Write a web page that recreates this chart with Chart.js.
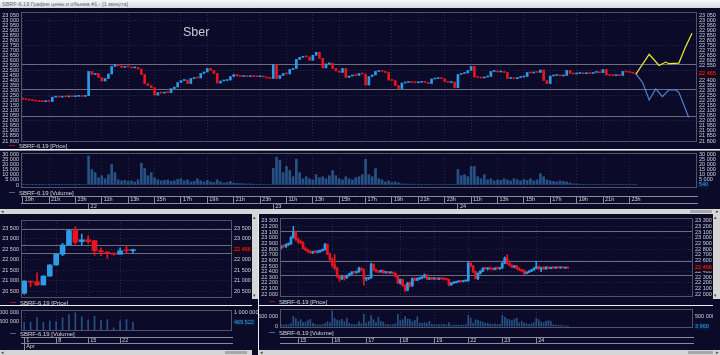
<!DOCTYPE html>
<html><head><meta charset="utf-8">
<script src="https://cdn.jsdelivr.net/npm/chart.js@4.4.1/dist/chart.umd.min.js"></script>
<style>
html,body{margin:0;padding:0;}
body{width:720px;height:355px;overflow:hidden;position:relative;background:#0b0b29;font-family:"Liberation Sans",Arial,sans-serif;}
canvas{position:absolute;display:block;}
.a{position:absolute;}
#title{left:0;top:0;width:720px;height:8px;background:linear-gradient(#f7f7f7,#d8dae0);color:#6a6a78;font-size:5.5px;line-height:8px;text-indent:2px;white-space:nowrap;overflow:hidden;}
.lg{position:absolute;font-size:6px;line-height:7px;color:#d6d6de;white-space:nowrap;}
.lg i{display:inline-block;width:6px;height:1px;vertical-align:middle;margin-right:4px;position:relative;top:-1px;}
.sep{position:absolute;background:#eeeeee;}
.sb{position:absolute;background:#d6d6d6;color:#444;font-size:5px;line-height:5px;overflow:hidden;}
.th{position:absolute;background:#a8a8a8;}
#sber{left:183px;top:25px;font-size:12.5px;color:#c9c9cf;}
</style></head>
<body>
<div id="title" class="a">SBRF-6.19 График цены и объема #1 - [1 минута]</div>
<canvas id="cTop" width="720" height="136" style="left:0;top:8px"></canvas>
<canvas id="cTopVol" width="720" height="58" style="left:0;top:151px"></canvas>
<canvas id="cDay" width="252" height="92" style="left:0;top:214px"></canvas>
<canvas id="cDayVol" width="258" height="43" style="left:0;top:307px"></canvas>
<canvas id="cHour" width="454" height="92" style="left:259px;top:214px"></canvas>
<canvas id="cHourVol" width="454" height="43" style="left:259px;top:307px"></canvas>

<div id="sber" class="a">Sber</div>
<div class="lg" style="left:9px;top:143px"><i style="background:#8c1a2a"></i>SBRF-6.19 [Price]</div>
<div class="lg" style="left:9px;top:190px"><i style="background:#3565a5"></i>SBRF-6.19 [Volume]</div>
<div class="lg" style="left:10px;top:300px"><i style="background:#8c1a2a"></i>SBRF-6.19 [Price]</div>
<div class="lg" style="left:10px;top:331px"><i style="background:#3565a5"></i>SBRF-6.19 [Volume]</div>
<div class="lg" style="left:269px;top:299px"><i style="background:#8c1a2a"></i>SBRF-6.19 [Price]</div>
<div class="lg" style="left:269px;top:330px"><i style="background:#3565a5"></i>SBRF-6.19 [Volume]</div>

<div class="sep" style="left:0;top:149px;width:720px;height:1px"></div>
<div class="sep" style="left:0;top:150px;width:720px;height:1px;background:#8e8e96"></div>
<div class="sb" style="left:0;top:209px;width:720px;height:5px">&nbsp;◂<div class="th" style="left:690px;top:1px;width:22px;height:3px"></div><span class="a" style="right:1px;top:0">▸</span></div>
<div class="sep" style="left:0;top:305px;width:252px;height:1px"></div>
<div class="sep" style="left:259px;top:305px;width:454px;height:1px"></div>
<div class="sb" style="left:252px;top:214px;width:6px;height:85px"><span class="a" style="left:1px;top:1px">▴</span><span class="a" style="left:1px;bottom:1px">▾</span></div>
<div class="sep" style="left:258px;top:214px;width:1px;height:141px"></div>
<div class="sb" style="left:713px;top:214px;width:7px;height:85px"><span class="a" style="left:1px;top:1px">▴</span><span class="a" style="left:1px;bottom:1px">▾</span></div>
<div class="sb" style="left:0;top:350px;width:252px;height:5px">&nbsp;◂<div class="th" style="left:225px;top:1px;width:22px;height:3px"></div></div>
<div class="sb" style="left:259px;top:350px;width:461px;height:5px">&nbsp;◂<div class="th" style="left:429px;top:1px;width:25px;height:3px"></div><span class="a" style="right:1px;top:0">▸</span></div>

<script>
// ---------------- DATA ----------------
// Top panel: 15-minute slots (session day, first hour, number of slots)
const topSessions = [['21', 19, 20], ['22', 10, 56], ['23', 10, 56], ['24', 10, 55]];
const topForecastSlots = 18;
const topOpen = [
22220,22215,22210,22205,22200,22195,22192,22190,22195,22192,
22235,22238,22235,22240,22238,22242,22240,22243,22245,22242,
22250,22490,22460,22470,22430,22395,22420,22465,22540,22560,
22545,22530,22540,22535,22525,22530,22515,22460,22370,22350,
22330,22255,22280,22275,22285,22280,22320,22335,22380,22400,
22405,22370,22420,22430,22425,22470,22485,22520,22500,22470,
22375,22395,22400,22405,22440,22460,22445,22440,22440,22438,
22442,22440,22438,22440,22435,22425,22420,22560,22420,22450,
22470,22465,22510,22520,22610,22630,22640,22635,22600,22650,
22680,22620,22525,22565,22570,22520,22495,22480,22520,22430,
22445,22455,22450,22470,22465,22355,22440,22455,22490,22495,
22490,22480,22405,22400,22350,22320,22375,22380,22385,22380,
22378,22382,22385,22380,22370,22415,22420,22425,22418,22390,
22380,22385,22330,22460,22470,22475,22500,22540,22435,22430,
22425,22435,22440,22490,22495,22485,22490,22480,22420,22425,
22418,22430,22435,22440,22480,22475,22485,22480,22505,22400,
22370,22445,22450,22455,22445,22450,22500,22470,22465,22470,
22475,22468,22472,22470,22480,22485,22478,22510,22455,22450,
22448,22452,22450,22490,22485,22480,22472];
const topClose = [
22215,22210,22205,22200,22195,22192,22190,22195,22192,22235,
22238,22235,22240,22238,22242,22240,22243,22245,22242,22248,
22490,22460,22470,22430,22395,22420,22465,22540,22560,22545,
22530,22540,22535,22525,22530,22515,22460,22370,22350,22330,
22255,22280,22275,22285,22280,22320,22335,22380,22400,22405,
22370,22420,22430,22425,22470,22485,22520,22500,22470,22375,
22395,22400,22405,22440,22460,22445,22440,22440,22438,22442,
22440,22438,22440,22435,22425,22420,22560,22420,22450,22470,
22465,22510,22520,22610,22630,22640,22635,22600,22650,22680,
22620,22525,22565,22570,22520,22495,22480,22520,22430,22445,
22455,22450,22470,22465,22355,22440,22455,22490,22495,22490,
22480,22405,22400,22350,22320,22375,22380,22385,22380,22378,
22382,22385,22380,22370,22415,22420,22425,22418,22390,22380,
22385,22330,22460,22470,22475,22500,22540,22435,22430,22425,
22435,22440,22490,22495,22485,22490,22480,22420,22425,22418,
22430,22435,22440,22480,22475,22485,22480,22505,22400,22370,
22445,22450,22455,22445,22450,22500,22470,22465,22470,22475,
22468,22472,22470,22480,22485,22478,22510,22455,22450,22448,
22452,22450,22490,22485,22480,22472,22465];
const topVolume = [
300,200,300,200,250,200,300,400,200,600,
300,200,300,200,250,300,200,300,400,500,
28000,15000,12000,7000,9000,6000,10000,20000,12000,5000,
4000,4500,3500,4000,3000,5000,21000,16000,9000,12000,
7000,5000,4000,4500,5000,3500,4000,5500,6000,4000,
5000,3000,3500,6000,4000,3000,4500,3000,2500,5000,
3000,2000,2500,3500,2000,1500,1500,1200,1000,1200,
800,700,600,500,500,600,16000,27000,24000,12000,
18000,14000,8000,25000,12000,6000,8000,6000,5000,10000,
7000,8000,6000,9000,14000,9000,6000,5000,8000,6000,
5000,7000,8000,10000,25000,10000,8000,16000,6000,5000,
3000,4000,2500,3000,2000,1200,1000,900,800,700,
800,600,700,600,500,600,500,400,500,400,
500,600,15000,9000,10000,8000,18000,18000,8000,6000,
10000,5000,6000,4000,5000,4500,6000,5000,4000,6000,
5000,4000,5500,4500,6000,4000,5000,11000,8000,5000,
4000,3500,3000,4000,3500,3000,2000,1200,1000,800,
700,600,500,600,500,400,500,600,400,500,
400,500,600,400,500,400,540];
// forecast paths (slot index, price)
const upPathIdx = [186, 190, 193, 195, 196, 199, 201, 203];
const upPathVal = [22465, 22660, 22550, 22583, 22567, 22573, 22733, 22870];
const downPathIdx = [186, 188, 190, 192, 194, 196, 198, 199, 202];
const downPathVal = [22465, 22380, 22207, 22317, 22240, 22307, 22307, 22283, 22033];
const topLevels = [22555, 22315, 22045];
const topLeftTicks = [21800,21850,21900,21950,22000,22050,22100,22150,22200,22250,22300,22350,22400,22450,22500,22550,22600,22650,22700,22750,22800,22850,22900,22950,23000,23050];
const topRightTicks = [21800,21850,21900,21950,22000,22050,22100,22150,22200,22250,22300,22350,22400,22465,22550,22600,22650,22700,22750,22800,22850,22900,22950,23000,23050];
const topVolLeftTicks = [0, 5000, 10000, 15000, 20000, 25000, 30000];
const topVolRightTicks = [540, 5000, 10000, 15000, 20000, 25000, 30000];

// Bottom-left: daily candles, April
const dayLabels = ['Apr 1','Apr 2','Apr 3','Apr 4','Apr 5','Apr 8','Apr 9','Apr 10','Apr 11','Apr 12','Apr 15','Apr 16','Apr 17','Apr 18','Apr 19','Apr 22','Apr 23','Apr 24',
  'Apr 25','Apr 26','Apr 29','Apr 30','May 1','May 2','May 3','May 6','May 7','May 8','May 10','May 13','May 14','May 15','May 16'];
const dayOpen  = [20390,20960,20940,20790,21210,21740,22250,22690,23380,22850,22940,22900,22420,22360,22300,22250,22450,22420];
const dayHigh  = [20990,20980,21370,21230,21760,22290,22770,23410,23560,23210,23130,22910,22560,22370,22320,22560,22650,22500];
const dayLow   = [20350,20700,20760,20780,21200,21720,22180,22680,22720,22690,22770,22200,22180,22060,22210,22240,22300,22300];
const dayClose = [20975,20920,20790,21210,21740,22250,22690,23380,22820,22940,22850,22420,22360,22300,22250,22420,22420,22466];
const dayVolume = [460000,460000,700000,460000,520000,490000,700000,860000,950000,740000,570000,780000,570000,600000,170000,540000,600000,469522];
const dayWeekTicks = ['1', '8', '15', '22'];
const dayMonthTicks = ['Apr'];
const dayLevels = [23405, 22690, 22295];
const dayLeftTicks = [20500, 21000, 21500, 22000, 22500, 23000, 23500];
const dayRightTicks = [20500, 21000, 21500, 22000, 22466, 23000, 23500];
const dayVolLeftTicks = [500000, 1000000];
const dayVolRightTicks = [469522, 1000000];

// Bottom-right: hourly candles (day, first hour, number of hours)
const hourSessions = [['12', 17, 7], ['15', 10, 14], ['16', 10, 14], ['17', 10, 14], ['18', 10, 14], ['19', 10, 14], ['22', 10, 14], ['23', 10, 14], ['24', 10, 14]];
const hourFutureSlots = 51;
const hourOpen = [
22820,22850,22840,22880,22890,23000,23100,
22970,22930,22910,22810,22780,22750,22740,22750,22745,22760,22770,22790,22880,22710,
22620,22520,22460,22320,22280,22310,22290,22330,22360,22390,22385,22395,22460,22440,
22270,22280,22290,22530,22430,22410,22395,22420,22385,22390,22380,22385,22370,22320,
22200,22260,22150,22070,22200,22150,22280,22250,22280,22290,22300,22340,22270,22290,
22275,22280,22270,22280,22275,22270,22265,22165,22200,22210,22220,22230,22225,22235,
22240,22550,22500,22400,22280,22370,22410,22460,22450,22465,22450,22440,22460,22455,
22465,22550,22635,22540,22510,22480,22500,22450,22430,22420,22370,22390,22410,22430,
22460,22490,22450,22470,22450,22480,22460,22475,22465,22470,22468,22472,22465,22470];
const hourHigh = [
22860,22880,22890,22910,23020,23200,23120,
22990,22960,22930,22830,22800,22770,22760,22770,22770,22780,22800,22900,22890,22730,
22640,22700,22480,22340,22330,22320,22340,22370,22400,22410,22410,22480,22470,22450,
22300,22300,22550,22540,22450,22420,22430,22430,22400,22400,22395,22395,22380,22330,
22270,22270,22170,22210,22220,22290,22290,22290,22300,22310,22360,22350,22300,22300,
22290,22290,22290,22290,22285,22280,22270,22210,22220,22230,22240,22240,22245,22250,
22580,22560,22510,22410,22380,22420,22470,22480,22470,22480,22470,22470,22480,22470,
22560,22660,22700,22560,22520,22510,22510,22470,22440,22430,22400,22420,22440,22470,
22580,22500,22480,22490,22490,22490,22480,22490,22480,22480,22480,22480,22475,22475];
const hourLow = [
22800,22830,22830,22860,22880,22990,22950,
22900,22890,22800,22770,22740,22720,22720,22730,22730,22740,22760,22780,22700,22600,
22480,22440,22300,22230,22260,22250,22280,22320,22350,22370,22370,22390,22420,22160,
22240,22260,22280,22420,22390,22380,22390,22370,22370,22370,22365,22360,22300,22190,
22180,22140,22050,22060,22130,22140,22240,22240,22260,22270,22290,22260,22260,22260,
22260,22260,22260,22260,22255,22250,22150,22160,22190,22200,22215,22215,22220,22230,
22230,22490,22380,22270,22260,22360,22400,22440,22430,22440,22430,22430,22440,22440,
22460,22540,22530,22500,22470,22470,22440,22420,22400,22340,22360,22380,22400,22420,
22450,22440,22400,22440,22440,22450,22450,22455,22455,22460,22460,22460,22455,22460];
const hourClose = [
22850,22840,22880,22890,23000,23100,22970,
22930,22910,22810,22780,22750,22740,22750,22745,22760,22770,22790,22880,22710,22620,
22520,22460,22320,22280,22310,22290,22330,22360,22390,22385,22395,22460,22440,22270,
22280,22290,22530,22430,22410,22395,22420,22385,22390,22380,22385,22370,22320,22200,
22260,22150,22070,22200,22150,22280,22250,22280,22290,22300,22340,22270,22290,22275,
22280,22270,22280,22275,22270,22265,22165,22200,22210,22220,22230,22225,22235,22240,
22550,22500,22400,22280,22370,22410,22460,22450,22465,22450,22440,22460,22455,22465,
22550,22635,22540,22510,22480,22500,22450,22430,22420,22370,22390,22410,22430,22460,
22490,22450,22470,22450,22480,22460,22475,22465,22470,22468,22472,22465,22470,22466];
const hourVolume = [
120000,90000,110000,100000,150000,520000,400000,
250000,350000,200000,230000,300000,370000,180000,120000,100000,90000,110000,150000,250000,200000,
800000,420000,330000,300000,370000,250000,430000,180000,120000,100000,110000,250000,150000,630000,
180000,270000,550000,350000,200000,470000,270000,230000,120000,100000,90000,110000,150000,620000,
300000,350000,500000,380000,370000,250000,300000,500000,180000,170000,200000,180000,270000,120000,
110000,100000,90000,120000,100000,90000,200000,80000,80000,80000,80000,80000,90000,100000,
560000,430000,180000,350000,320000,270000,230000,180000,180000,130000,120000,140000,110000,120000,
580000,480000,380000,350000,300000,380000,430000,200000,270000,180000,150000,120000,150000,200000,
430000,350000,230000,200000,270000,300000,270000,100000,80000,70000,60000,50000,40000,3960];
const hourDayTicks = ['15', '16', '17', '18', '19', '22', '23', '24'];
const hourLevels = [23118, 22576, 22328];
const hourLeftTicks = [22000,22100,22200,22300,22400,22500,22600,22700,22800,22900,23000,23100,23200,23300];
const hourRightTicks = [22000,22100,22200,22300,22400,22466,22600,22700,22800,22900,23000,23100,23200,23300];
const hourVolLeftTicks = [0, 500000];
const hourVolRightTicks = [3960, 500000];

// ---------------- STYLE ----------------
const UP = '#2c9ce8', DN = '#e8141e';
const LABEL = '#d2d2da', GRID = 'rgba(80,80,140,0.40)', AX = '#8a8a98', LEVEL = '#6c6c7c', FRAME = '#52526a';
const RED = '#ff2b2b', BLUE = '#3f9dff', VOL = 'rgba(40,88,140,0.92)';
const FONT = {family: "'Liberation Sans', Arial, sans-serif", size: 5.5};
const fmt = v => String(v).replace(/\B(?=(\d{3})+(?!\d))/g, ' ');

Chart.defaults.animation = false;
Chart.defaults.responsive = false;
Chart.defaults.devicePixelRatio = 1;
Chart.defaults.font.family = FONT.family;
Chart.defaults.font.size = 5.5;
Chart.defaults.color = LABEL;
Chart.defaults.plugins.legend.display = false;
Chart.defaults.plugins.tooltip.enabled = false;

Chart.register({
  id: 'frame',
  afterDatasetsDraw(ch) {
    const a = ch.chartArea, g = ch.ctx;
    g.save(); g.strokeStyle = FRAME; g.lineWidth = 1;
    g.strokeRect(Math.round(a.left) + 0.5, Math.round(a.top) + 0.5, Math.round(a.right - a.left) - 1, Math.round(a.bottom - a.top) - 1);
    g.restore();
  }
});

// ---------------- HELPERS ----------------
function buildLabels(sessions, stepMin, extra) {
  const out = [];
  sessions.forEach(([d, h0, n]) => {
    for (let k = 0; k < n; k++) {
      const m = h0 * 60 + k * stepMin;
      out.push(d + ' ' + String(Math.floor(m / 60)).padStart(2, '0') + ':' + String(m % 60).padStart(2, '0'));
    }
  });
  for (let k = 1; k <= extra; k++) out.push('+' + k);
  return out;
}
function yAxis(pos, min, max, ticks, width, special, gridStep) {
  special = special || {};
  return {
    type: 'linear', position: pos, min, max,
    afterBuildTicks: s => { s.ticks = ticks.map(v => ({value: v})); },
    afterFit: s => { s.width = width; s.paddingTop = 0; s.paddingBottom = 0; },
    grid: {drawTicks: false, color: c => (gridStep && c.tick && c.tick.value % gridStep === 0) ? GRID : 'rgba(0,0,0,0)'},
    border: {display: false, dash: [1, 2]},
    ticks: {
      autoSkip: false, font: FONT, padding: 2, callback: v => fmt(v),
      color: c => (c.tick && special[c.tick.value]) || LABEL,
      showLabelBackdrop: c => !!(c.tick && special[c.tick.value]),
      backdropColor: c => (c.tick && special[c.tick.value] === RED) ? '#24060e' : '#071a35',
      backdropPadding: {left: 1, right: 1, top: 0, bottom: 0}
    }
  };
}
function levelAxis(min, max, levels) {
  return {
    type: 'linear', position: 'left', min, max,
    afterBuildTicks: s => { s.ticks = levels.map(v => ({value: v})); },
    afterFit: s => { s.width = 0; s.paddingTop = 0; s.paddingBottom = 0; },
    ticks: {display: false}, grid: {color: LEVEL, drawTicks: false}, border: {display: false}
  };
}
function xGrid(idx, h) {
  return {
    type: 'category', position: 'bottom', offset: true, weight: 0,
    afterBuildTicks: s => { s.ticks = idx.map(v => ({value: v})); },
    afterFit: s => { s.height = h; s.paddingLeft = 0; s.paddingRight = 0; },
    ticks: {display: false}, grid: {color: GRID, drawTicks: false, offset: false}, border: {display: false, dash: [1, 2]}
  };
}
function xRow(idx, txt, h, weight) {
  return {
    type: 'category', position: 'bottom', offset: true, weight,
    afterBuildTicks: s => { s.ticks = idx.map(v => ({value: v})); },
    afterFit: s => { s.height = h; s.paddingLeft = 0; s.paddingRight = 0; },
    grid: {drawOnChartArea: false, drawTicks: true, tickLength: h, color: AX, offset: false},
    border: {display: true, color: AX},
    ticks: {display: idx.length > 0, autoSkip: false, maxRotation: 0, minRotation: 0, align: 'start', labelOffset: 2,
            padding: -h, font: FONT, color: LABEL, callback: (v, i) => txt[i]}
  };
}
function priceChart(id, labels, O, H, L, C, o) {
  const n = C.length;
  const col = c => (C[c.dataIndex] >= O[c.dataIndex] ? UP : DN);
  const ds = [{type: 'bar', order: 1, grouped: false, barThickness: o.bodyW, minBarLength: 1, backgroundColor: col, borderWidth: 0,
               data: labels.map((_, i) => i < n ? [O[i], C[i]] : null)}];
  if (H) ds.push({type: 'bar', order: 2, grouped: false, barThickness: 1, backgroundColor: col, borderWidth: 0,
               data: labels.map((_, i) => i < n ? [L[i], H[i]] : null)});
  (o.lines || []).forEach(l => ds.push(l));
  return new Chart(document.getElementById(id), {
    type: 'bar', data: {labels, datasets: ds},
    options: {layout: {padding: o.pad}, scales: {
      x: xGrid(o.gridIdx, 0),
      y: yAxis('left', o.min, o.max, o.lt, o.lw, null, o.gridStep),
      yl: levelAxis(o.min, o.max, o.levels),
      yr: yAxis('right', o.min, o.max, o.rt, o.rw, o.special, 0)
    }}
  });
}
function volChart(id, labels, V, o) {
  return new Chart(document.getElementById(id), {
    type: 'bar',
    data: {labels, datasets: [{data: V, backgroundColor: VOL, borderWidth: 0, barThickness: o.barW, grouped: false}]},
    options: {layout: {padding: o.pad}, scales: {
      x: xGrid(o.gridIdx, o.h1),
      xh: xRow(o.hIdx, o.hTxt, o.h2, 1),
      xd: xRow(o.dIdx, o.dTxt, o.h3, 2),
      y: yAxis('left', o.min, o.max, o.lt, o.lw, null, 0),
      yr: yAxis('right', o.min, o.max, o.rt, o.rw, o.special, 0)
    }}
  });
}

// ---------------- TOP PANEL ----------------
const topLabels = buildLabels(topSessions, 15, topForecastSlots);
const topHourIdx = [], topHourTxt = [];
topLabels.forEach((l, i) => { const m = l.match(/ (\d\d):00$/); if (m && (+m[1]) % 2 === 1) { topHourIdx.push(i); topHourTxt.push((+m[1]) + 'h'); } });
const topDayIdx = topSessions.slice(1).map(s => topLabels.indexOf(s[0] + ' 10:00'));
const topDayTxt = topSessions.slice(1).map(s => s[0]);
const pathData = (idx, val) => { const d = topLabels.map(() => null); idx.forEach((ix, k) => { d[ix] = val[k]; }); return d; };

priceChart('cTop', topLabels, topOpen, null, null, topClose, {
  bodyW: 2, pad: {top: 4, bottom: 2, left: 0, right: 0}, gridIdx: topHourIdx, gridStep: 250,
  min: 21790, max: 23080, lt: topLeftTicks, rt: topRightTicks, lw: 21, rw: 23,
  levels: topLevels, special: {22465: RED},
  lines: [
    {type: 'line', order: 0, data: pathData(upPathIdx, upPathVal), borderColor: '#eeee2a', borderWidth: 1.2, pointRadius: 0, spanGaps: true, tension: 0},
    {type: 'line', order: 0, data: pathData(downPathIdx, downPathVal), borderColor: '#4d82d2', borderWidth: 1.2, pointRadius: 0, spanGaps: true, tension: 0}
  ]
});
volChart('cTopVol', topLabels, topVolume, {
  barW: 2, pad: {top: 2, bottom: 0, left: 0, right: 0}, gridIdx: topHourIdx,
  h1: 8, h2: 7, h3: 6, hIdx: topHourIdx, hTxt: topHourTxt, dIdx: topDayIdx, dTxt: topDayTxt,
  min: -2900, max: 30970, lt: topVolLeftTicks, rt: topVolRightTicks, lw: 21, rw: 23, special: {540: BLUE}
});

// ---------------- DAILY PANEL ----------------
const dayWeekIdx = dayWeekTicks.map(d => dayLabels.indexOf('Apr ' + d));
const dayMonthIdx = dayMonthTicks.map(m => dayLabels.findIndex(l => l.startsWith(m)));
priceChart('cDay', dayLabels, dayOpen, dayHigh, dayLow, dayClose, {
  bodyW: 5, pad: {top: 6, bottom: 8, left: 0, right: 0}, gridIdx: dayWeekIdx, gridStep: 500,
  min: 20167, max: 23881, lt: dayLeftTicks, rt: dayRightTicks, lw: 21, rw: 20,
  levels: dayLevels, special: {22466: RED}
});
volChart('cDayVol', dayLabels, dayVolume, {
  barW: 1, pad: {top: 3, bottom: 0, left: 0, right: 0}, gridIdx: dayWeekIdx,
  h1: 6, h2: 6, h3: 7, hIdx: dayWeekIdx, hTxt: dayWeekTicks, dIdx: dayMonthIdx, dTxt: dayMonthTicks,
  min: 0, max: 1105000, lt: dayVolLeftTicks, rt: dayVolRightTicks, lw: 21, rw: 26, special: {469522: BLUE}
});

// ---------------- HOURLY PANEL ----------------
const hourLabels = buildLabels(hourSessions, 60, hourFutureSlots);
const hourDayIdx = hourDayTicks.map(d => hourLabels.indexOf(d + ' 10:00'));
priceChart('cHour', hourLabels, hourOpen, hourHigh, hourLow, hourClose, {
  bodyW: 2, pad: {top: 4, bottom: 9, left: 0, right: 0}, gridIdx: hourDayIdx, gridStep: 200,
  min: 21952, max: 23348, lt: hourLeftTicks, rt: hourRightTicks, lw: 21, rw: 20,
  levels: hourLevels, special: {22466: RED}
});
volChart('cHourVol', hourLabels, hourVolume, {
  barW: 1, pad: {top: 2, bottom: 0, left: 0, right: 0}, gridIdx: hourDayIdx,
  h1: 9, h2: 6, h3: 7, hIdx: hourDayIdx, hTxt: hourDayTicks, dIdx: [], dTxt: [],
  min: -65000, max: 885000, lt: hourVolLeftTicks, rt: hourVolRightTicks, lw: 21, rw: 20, special: {3960: BLUE}
});
</script>
</body></html>
